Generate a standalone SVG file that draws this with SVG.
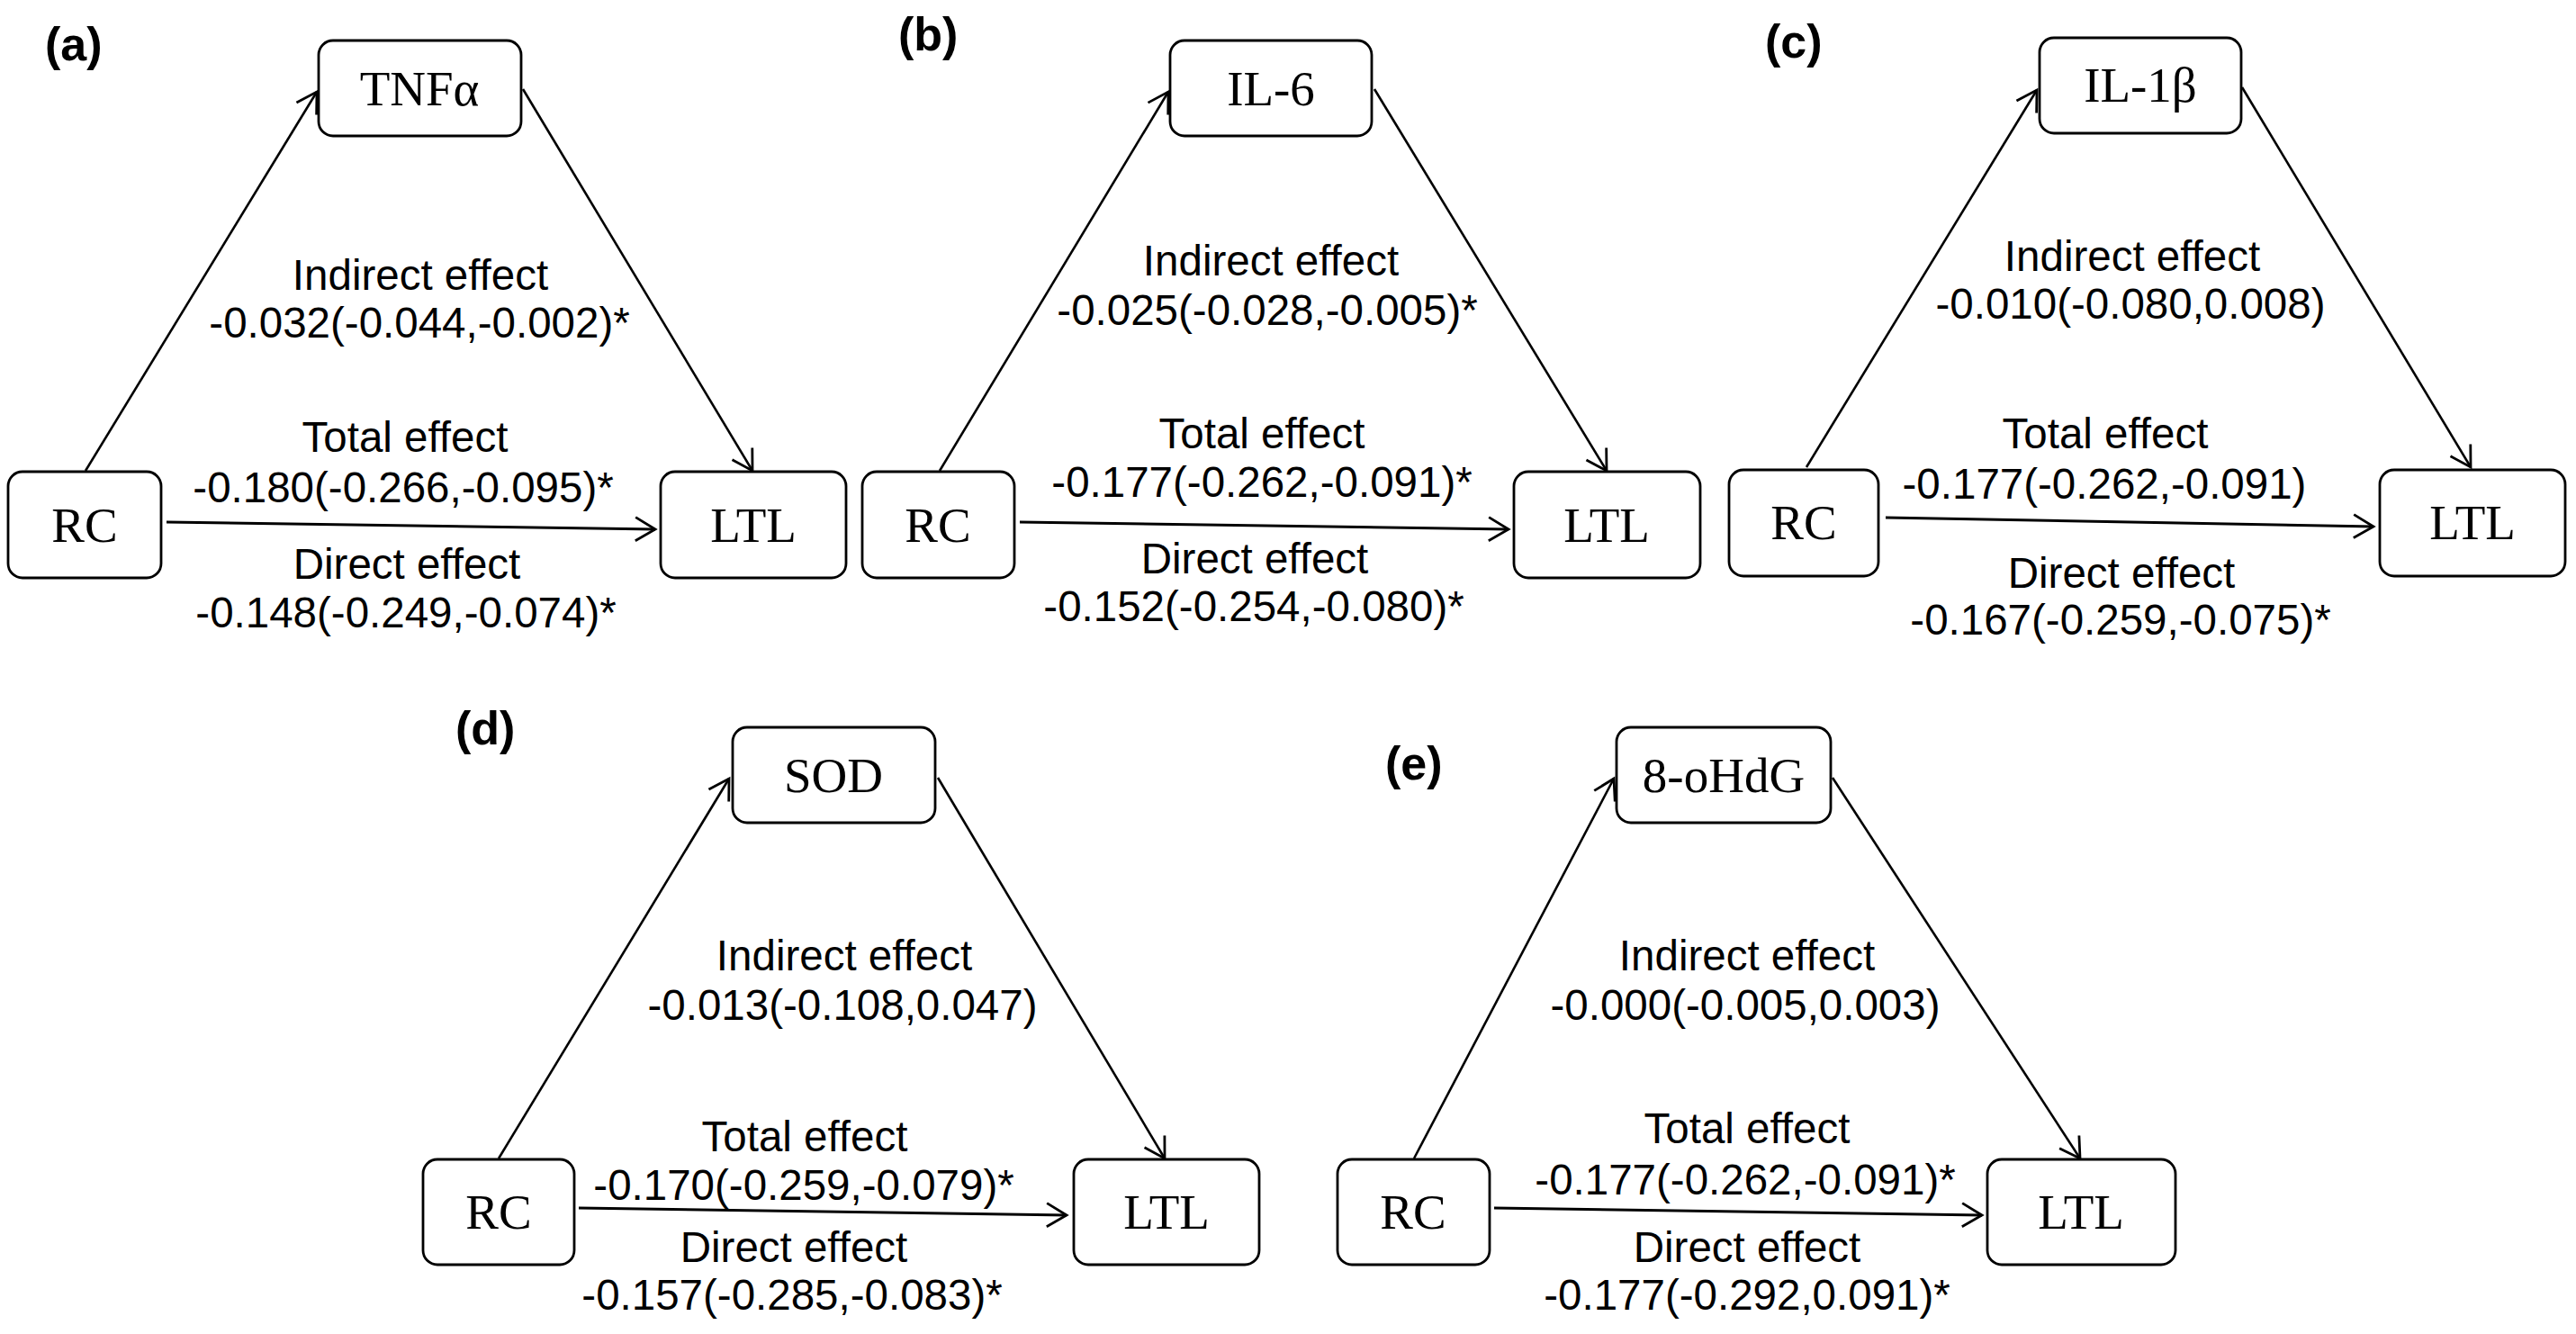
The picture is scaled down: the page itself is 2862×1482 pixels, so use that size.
<svg xmlns="http://www.w3.org/2000/svg" width="2862" height="1482" viewBox="0 0 2862 1482">
<style>
.box{fill:#fff;stroke:#000;stroke-width:2.8}
.nt{font-family:"Liberation Serif","Times New Roman",serif;font-size:55px;text-anchor:middle;fill:#000}
.et{font-family:"Liberation Sans",Arial,sans-serif;font-size:47.5px;text-anchor:middle;fill:#000}
.lb{font-family:"Liberation Sans",Arial,sans-serif;font-size:52px;font-weight:bold;fill:#000}
.ed{fill:none;stroke:#000;stroke-width:2.6}
.eh{fill:none;stroke:#000;stroke-width:3}
</style>
<defs>
<marker id="ah" markerUnits="userSpaceOnUse" viewBox="0 0 28 30" refX="24" refY="15" markerWidth="28" markerHeight="30" orient="auto" overflow="visible">
<path d="M2,2 L24,15 L2,28" fill="none" stroke="#000" stroke-width="2.8"/>
</marker>
</defs>
<rect width="2862" height="1482" fill="#fff"/>

<g id="connectors">
<line class="ed" x1="95" y1="523" x2="352" y2="102" marker-end="url(#ah)"/>
<line class="ed" x1="581" y1="99" x2="836" y2="523" marker-end="url(#ah)"/>
<line class="eh" x1="185" y1="580" x2="728" y2="588" marker-end="url(#ah)"/>

<line class="ed" x1="1044" y1="523" x2="1298" y2="102" marker-end="url(#ah)"/>
<line class="ed" x1="1527" y1="99" x2="1785" y2="523" marker-end="url(#ah)"/>
<line class="eh" x1="1133" y1="580" x2="1676" y2="588" marker-end="url(#ah)"/>

<line class="ed" x1="2007" y1="519" x2="2263" y2="100" marker-end="url(#ah)"/>
<line class="ed" x1="2491" y1="97" x2="2745" y2="519" marker-end="url(#ah)"/>
<line class="eh" x1="2095" y1="575" x2="2637" y2="585" marker-end="url(#ah)"/>

<line class="ed" x1="554" y1="1287" x2="810" y2="865" marker-end="url(#ah)"/>
<line class="ed" x1="1042" y1="864" x2="1294" y2="1287" marker-end="url(#ah)"/>
<line class="eh" x1="643" y1="1342" x2="1185" y2="1350" marker-end="url(#ah)"/>

<line class="ed" x1="1571" y1="1287" x2="1793" y2="865" marker-end="url(#ah)"/>
<line class="ed" x1="2036" y1="864" x2="2311" y2="1287" marker-end="url(#ah)"/>
<line class="eh" x1="1660" y1="1342" x2="2202" y2="1350" marker-end="url(#ah)"/>
</g>

<g id="panel-a">
<text class="lb" x="50" y="67">(a)</text>
<g id="a-tnf"><rect class="box" x="354" y="45" width="225" height="106" rx="16"/><text class="nt" x="466" y="117">TNFα</text></g>
<g id="a-rc"><rect class="box" x="9" y="524" width="170" height="118" rx="16"/><text class="nt" x="94" y="602">RC</text></g>
<g id="a-ltl"><rect class="box" x="734" y="524" width="206" height="118" rx="16"/><text class="nt" x="837" y="602">LTL</text></g>
<text class="et" x="467" y="322">Indirect effect</text>
<text class="et" x="466" y="375">-0.032(-0.044,-0.002)*</text>
<text class="et" x="450" y="502">Total effect</text>
<text class="et" x="448" y="558">-0.180(-0.266,-0.095)*</text>
<text class="et" x="452" y="643">Direct effect</text>
<text class="et" x="451" y="697">-0.148(-0.249,-0.074)*</text>
</g>

<g id="panel-b">
<text class="lb" x="998" y="56">(b)</text>
<g id="b-il6"><rect class="box" x="1300" y="45" width="224" height="106" rx="16"/><text class="nt" x="1412" y="117">IL-6</text></g>
<g id="b-rc"><rect class="box" x="958" y="524" width="169" height="118" rx="16"/><text class="nt" x="1042" y="602">RC</text></g>
<g id="b-ltl"><rect class="box" x="1682" y="524" width="207" height="118" rx="16"/><text class="nt" x="1785" y="602">LTL</text></g>
<text class="et" x="1412" y="306">Indirect effect</text>
<text class="et" x="1408" y="361">-0.025(-0.028,-0.005)*</text>
<text class="et" x="1402" y="498">Total effect</text>
<text class="et" x="1402" y="552">-0.177(-0.262,-0.091)*</text>
<text class="et" x="1394" y="637">Direct effect</text>
<text class="et" x="1393" y="690">-0.152(-0.254,-0.080)*</text>
</g>

<g id="panel-c">
<text class="lb" x="1961" y="64">(c)</text>
<g id="c-il1b"><rect class="box" x="2266" y="42" width="224" height="106" rx="16"/><text class="nt" x="2378" y="113">IL-1β</text></g>
<g id="c-rc"><rect class="box" x="1921" y="522" width="166" height="118" rx="16"/><text class="nt" x="2004" y="599">RC</text></g>
<g id="c-ltl"><rect class="box" x="2644" y="522" width="206" height="118" rx="16"/><text class="nt" x="2747" y="599">LTL</text></g>
<text class="et" x="2369" y="301">Indirect effect</text>
<text class="et" x="2367" y="354">-0.010(-0.080,0.008)</text>
<text class="et" x="2339" y="498">Total effect</text>
<text class="et" x="2338" y="554">-0.177(-0.262,-0.091)</text>
<text class="et" x="2357" y="653">Direct effect</text>
<text class="et" x="2356" y="705">-0.167(-0.259,-0.075)*</text>
</g>

<g id="panel-d">
<text class="lb" x="506" y="827">(d)</text>
<g id="d-sod"><rect class="box" x="814" y="808" width="225" height="106" rx="16"/><text class="nt" x="926" y="880">SOD</text></g>
<g id="d-rc"><rect class="box" x="470" y="1288" width="168" height="117" rx="16"/><text class="nt" x="554" y="1365">RC</text></g>
<g id="d-ltl"><rect class="box" x="1193" y="1288" width="206" height="117" rx="16"/><text class="nt" x="1296" y="1365">LTL</text></g>
<text class="et" x="938" y="1078">Indirect effect</text>
<text class="et" x="936" y="1133">-0.013(-0.108,0.047)</text>
<text class="et" x="894" y="1279">Total effect</text>
<text class="et" x="893" y="1333">-0.170(-0.259,-0.079)*</text>
<text class="et" x="882" y="1402">Direct effect</text>
<text class="et" x="880" y="1455">-0.157(-0.285,-0.083)*</text>
</g>

<g id="panel-e">
<text class="lb" x="1539" y="866">(e)</text>
<g id="e-8ohdg"><rect class="box" x="1796" y="808" width="238" height="106" rx="16"/><text class="nt" x="1915" y="880">8-oHdG</text></g>
<g id="e-rc"><rect class="box" x="1486" y="1288" width="169" height="117" rx="16"/><text class="nt" x="1570" y="1365">RC</text></g>
<g id="e-ltl"><rect class="box" x="2208" y="1288" width="209" height="117" rx="16"/><text class="nt" x="2312" y="1365">LTL</text></g>
<text class="et" x="1941" y="1078">Indirect effect</text>
<text class="et" x="1939" y="1133">-0.000(-0.005,0.003)</text>
<text class="et" x="1941" y="1270">Total effect</text>
<text class="et" x="1939" y="1327">-0.177(-0.262,-0.091)*</text>
<text class="et" x="1941" y="1402">Direct effect</text>
<text class="et" x="1941" y="1455">-0.177(-0.292,0.091)*</text>
</g>
</svg>
